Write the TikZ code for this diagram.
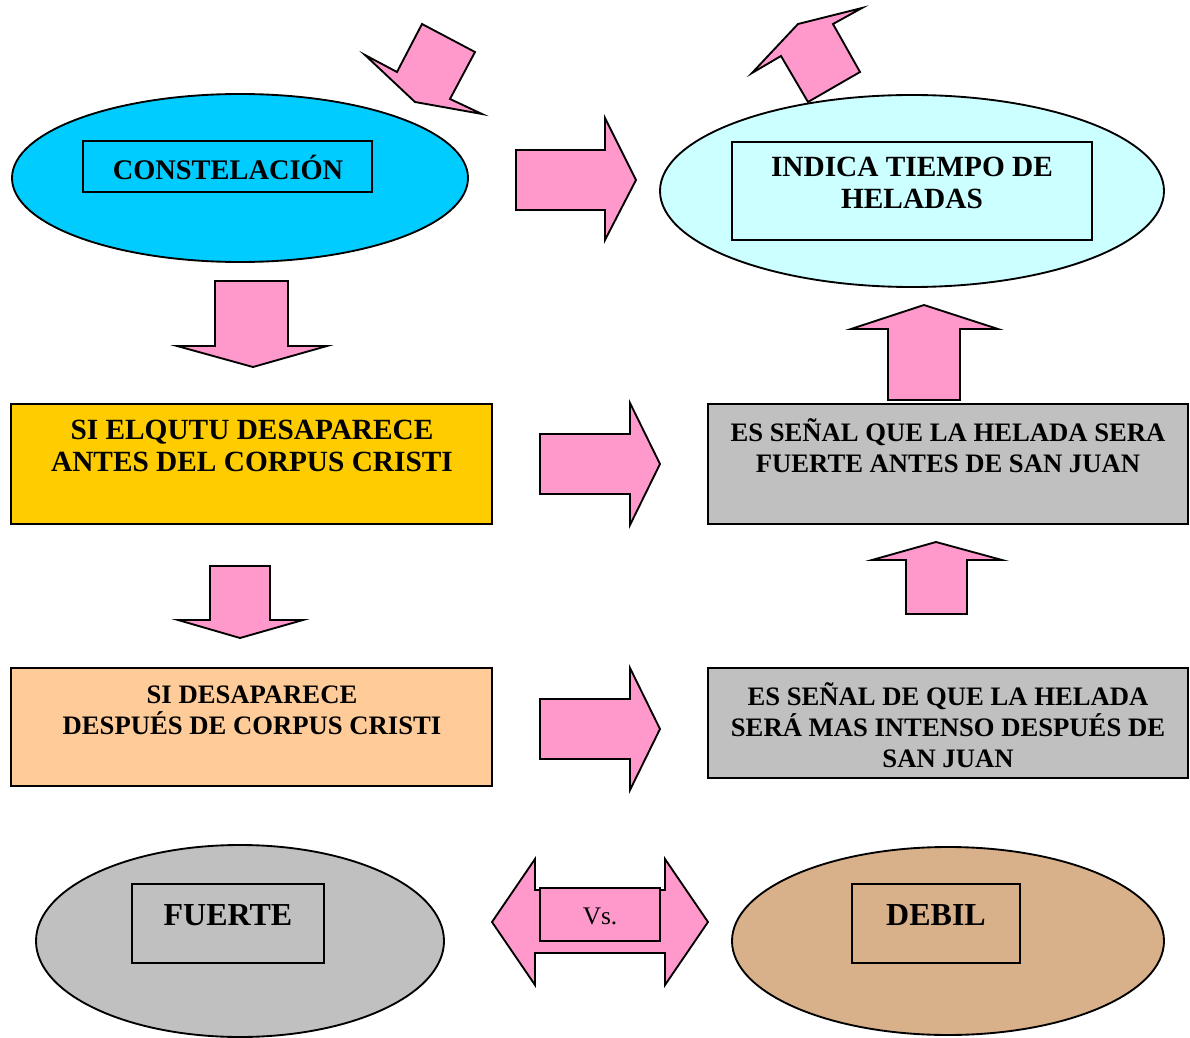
\documentclass[tikz,border=0pt]{standalone}
\usepackage{fontspec}
\setmainfont{Liberation Serif}

\begin{document}
\begin{tikzpicture}[x=0.75pt, y=-0.75pt]
    % Colours
    \definecolor{arrowPink}{HTML}{FF99CC}
    \definecolor{skyFill}{HTML}{00CCFF}
    \definecolor{iceFill}{HTML}{CCFFFF}
    \definecolor{goldFill}{HTML}{FFCC00}
    \definecolor{peachFill}{HTML}{FFCC99}
    \definecolor{greyFill}{HTML}{C0C0C0}
    \definecolor{tanFill}{HTML}{D8B08A}

    \tikzset{
        blockArrow/.style={fill=arrowPink, draw=black, line width=1.4pt, line join=miter},
        shapeLine/.style={draw=black, line width=1.4pt},
        boxText/.style={font=\bfseries\fontsize{20}{23.3}\selectfont, align=center, inner sep=0pt},
        headText/.style={font=\bfseries\fontsize{22}{23.5}\selectfont, align=center, inner sep=0pt},
        bigText/.style={font=\bfseries\fontsize{24}{27}\selectfont, inner sep=0pt}
    }

    \useasboundingbox (0,0) rectangle (1190,1038);

    % Ellipses
    \draw[shapeLine, fill=skyFill] (240,178) ellipse [x radius=228, y radius=84];
    \draw[shapeLine, fill=iceFill] (912,191) ellipse [x radius=252, y radius=96];
    \draw[shapeLine, fill=greyFill] (240,941) ellipse [x radius=204, y radius=96];
    \draw[shapeLine, fill=tanFill] (948,941) ellipse [x radius=216, y radius=94];

    % Frames inside the ellipses
    \draw[shapeLine] (83,141) rectangle (372,192);
    \draw[shapeLine] (732,142) rectangle (1092,240);
    \draw[shapeLine] (132,884) rectangle (324,963);
    \draw[shapeLine] (852,884) rectangle (1020,963);

    % Boxes
    \draw[shapeLine, fill=goldFill] (11,404) rectangle (492,524);
    \draw[shapeLine, fill=peachFill] (11,668) rectangle (492,786);
    \draw[shapeLine, fill=greyFill] (708,404) rectangle (1188,524);
    \draw[shapeLine, fill=greyFill] (708,668) rectangle (1188,778);

    % Tilted arrows at the top
    \draw[blockArrow] (365,55) -- (397,72) -- (422,24) -- (475,52) -- (450,99) -- (482,114) -- (415,102) -- cycle;
    \draw[blockArrow] (752,73) -- (798,24) -- (862,8) -- (833,24) -- (860,72) -- (808,102) -- (781,56) -- cycle;

    % Arrows to the right
    \draw[blockArrow] (516,150) -- (605,150) -- (605,118) -- (636,180) -- (605,240) -- (605,210) -- (516,210) -- cycle;
    \foreach \y in {464,729}
        \draw[blockArrow] (540,{\y-30}) -- (630,{\y-30}) -- (630,{\y-61}) -- (660,\y)
            -- (630,{\y+61}) -- (630,{\y+30}) -- (540,{\y+30}) -- cycle;

    % Arrows down
    \draw[blockArrow] (215,281) -- (288,281) -- (288,346) -- (327,346) -- (253,367) -- (177,346) -- (215,346) -- cycle;
    \draw[blockArrow] (210,566) -- (270,566) -- (270,620) -- (303,620) -- (240,638) -- (178,620) -- (210,620) -- cycle;

    % Arrows up
    \draw[blockArrow] (888,400) -- (960,400) -- (960,329) -- (998,329) -- (924,305) -- (851,329) -- (888,329) -- cycle;
    \draw[blockArrow] (906,614) -- (967,614) -- (967,560) -- (1002,560) -- (936,542) -- (872,560) -- (906,560) -- cycle;

    % Double arrow with its box
    \draw[blockArrow] (492,922) -- (535,859) -- (535,890) -- (665,890) -- (665,859) -- (708,922)
        -- (665,985) -- (665,953) -- (535,953) -- (535,985) -- cycle;
    \draw[blockArrow] (540,888) rectangle (660,941);

    % Texts
    \node[headText, font=\bfseries\fontsize{21.3}{23.5}\selectfont] (constelacion) at (228,167) {CONSTELACIÓN};
    \node[headText] (indica) at (912,183) {INDICA TIEMPO DE\\HELADAS};
    \node[headText] (antes) at (252,446) {SI ELQUTU DESAPARECE\\ANTES DEL CORPUS CRISTI};
    \node[boxText] (despues) at (252,710) {SI DESAPARECE\\DESPUÉS DE CORPUS CRISTI};
    \node[boxText] (fuerteSenal) at (948,446) {ES SEÑAL QUE LA HELADA SERA\\FUERTE ANTES DE SAN JUAN};
    \node[boxText] (intensoSenal) at (948,725) {ES SEÑAL DE QUE LA HELADA\\SERÁ MAS INTENSO DESPUÉS DE\\SAN JUAN};
    \node[bigText] (fuerte) at (228,915) {FUERTE};
    \node[bigText] (debil) at (936,915) {DEBIL};
    \node[font=\fontsize{19}{22}\selectfont, inner sep=0pt] (versus) at (600,916) {Vs.};
\end{tikzpicture}
\end{document}
